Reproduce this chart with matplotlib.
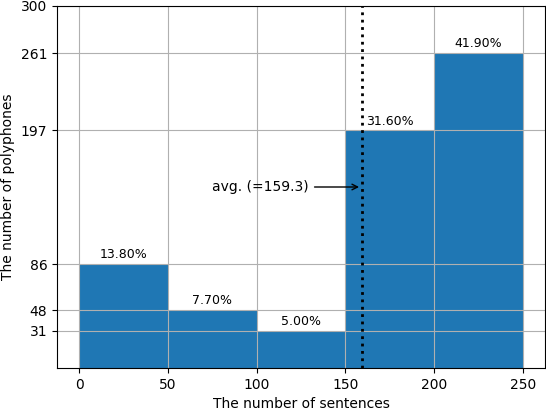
import matplotlib
matplotlib.use("Agg")
import matplotlib.pyplot as plt

bin_edges = [0, 50, 100, 150, 200]
bin_width = 50
counts = [86, 48, 31, 197, 261]
pct_labels = ["13.80%", "7.70%", "5.00%", "31.60%", "41.90%"]
avg_value = 159.3
yticks = [31, 48, 86, 197, 261, 300]

fig = plt.figure(figsize=(5.46, 4.08), dpi=100)
ax = fig.add_axes([57 / 546, 40 / 408, 488 / 546, 362 / 408])

bars = ax.bar(bin_edges, counts, width=bin_width, align='edge', color='#1f77b4')
for b, lab in zip(bars, pct_labels):
    ax.annotate(lab, (b.get_x() + b.get_width() / 2, b.get_height()),
                xytext=(0, 2), textcoords='offset points',
                ha='center', va='bottom', fontsize=9)

ax.axvline(avg_value, color='black', linestyle=':', linewidth=2)
ax.annotate("avg. (=%.1f)" % avg_value, xy=(avg_value, 150),
            xytext=(129.5, 150), ha='right', va='center', fontsize=10,
            arrowprops=dict(arrowstyle='->', color='black'))

ax.set_xlim(-12.5, 262.5)
ax.set_ylim(0, 300)
ax.set_yticks(yticks)
ax.set_xlabel("The number of sentences")
ax.set_ylabel("The number of polyphones")
ax.grid(True)

fig.savefig("out.png", dpi=100)
